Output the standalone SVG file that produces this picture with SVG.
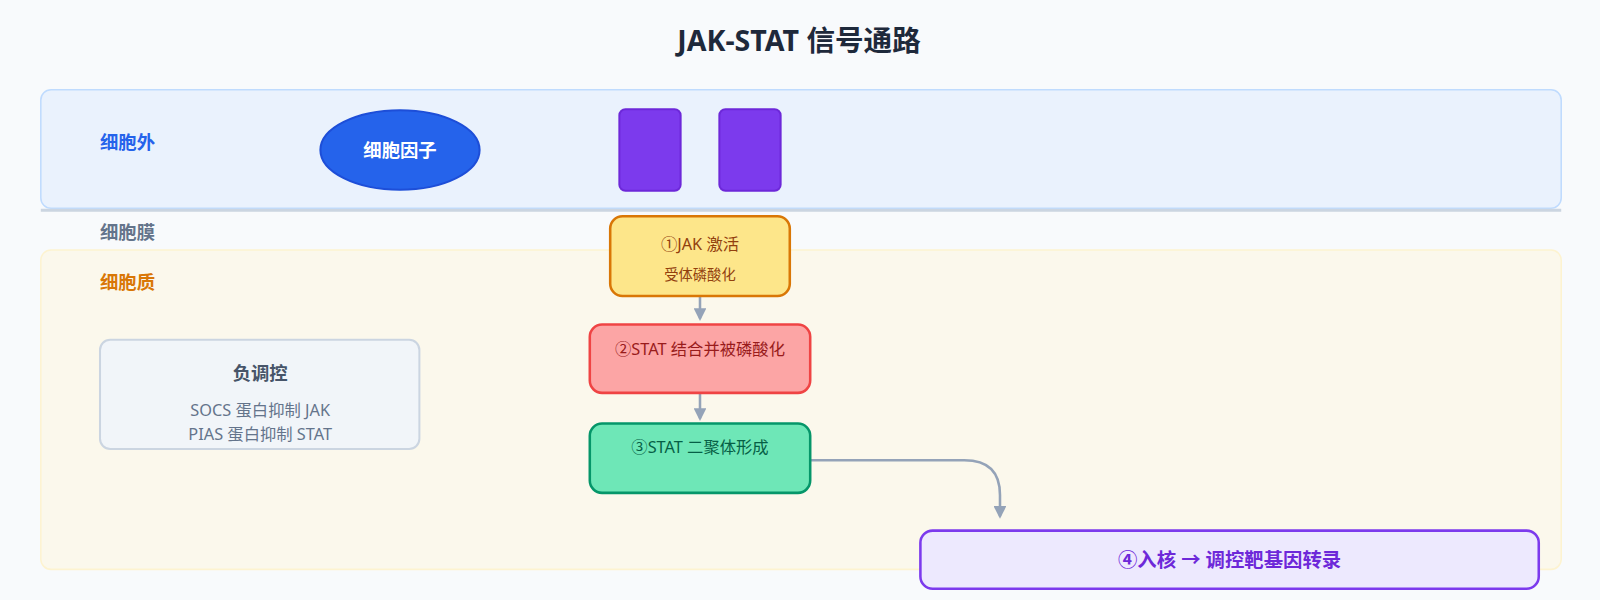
<svg xmlns="http://www.w3.org/2000/svg" width="1600" height="600" viewBox="0 0 1600 600">
<defs>
<style>
text{font-family:"Noto Sans","Noto Sans CJK SC",sans-serif}
.lbl{font-size:18px;font-weight:bold}
.conn{fill:none;stroke:#94a3b8;stroke-width:2.5}
</style>
<marker id="arr" viewBox="0 0 10 10" refX="8" refY="5" markerWidth="5" markerHeight="5" orient="auto"><path d="M0,0L10,5L0,10z" fill="#94a3b8"/></marker>
</defs>
<rect width="1600" height="600" fill="#f8fafc"/>
<g transform="scale(1.0204)">
<text x="783" y="50" text-anchor="middle" font-size="28" font-weight="bold" fill="#1e293b">JAK-STAT 信号通路</text>
<g id="extracellular"><rect x="40" y="88" width="1490" height="116" rx="10" fill="#eaf2fd" stroke="#bfdbfe" stroke-width="1.5"/><text x="98" y="146" class="lbl" fill="#2563eb">细胞外</text></g>
<g id="membrane"><line x1="40" y1="206" x2="1530" y2="206" stroke="#cbd5e1" stroke-width="3"/><text x="98" y="234" class="lbl" fill="#64748b">细胞膜</text></g>
<g id="cytoplasm"><rect x="40" y="245" width="1490" height="313" rx="10" fill="#fbf8ec" stroke="#fdf3d0" stroke-width="1.5"/><text x="98" y="283" class="lbl" fill="#d97706">细胞质</text></g>
<g id="cytokine"><ellipse cx="392" cy="147" rx="78" ry="39" fill="#2563eb" stroke="#1d4ed8" stroke-width="2"/><text x="392" y="154" text-anchor="middle" font-size="18" font-weight="bold" fill="#fff">细胞因子</text></g>
<g id="receptor1"><rect x="607" y="107" width="60" height="80" rx="6" fill="#7c3aed" stroke="#6d28d9" stroke-width="2"/></g>
<g id="receptor2"><rect x="705" y="107" width="60" height="80" rx="6" fill="#7c3aed" stroke="#6d28d9" stroke-width="2"/></g>
<g id="connectors">
<line class="conn" x1="686" y1="291" x2="686" y2="312" marker-end="url(#arr)"/>
<line class="conn" x1="686" y1="386" x2="686" y2="410" marker-end="url(#arr)"/>
<path class="conn" d="M794,451 H945 Q980,451 980,485 V506" marker-end="url(#arr)"/>
</g>
<g id="jak"><rect x="598" y="212" width="176" height="78" rx="12" fill="#fde68a" stroke="#d97706" stroke-width="2.5"/><text x="686" y="245" text-anchor="middle" font-size="16" fill="#92400e">①JAK 激活</text><text x="686" y="274" text-anchor="middle" font-size="14" fill="#92400e">受体磷酸化</text></g>
<g id="stat"><rect x="578" y="318" width="216" height="67" rx="12" fill="#fca5a5" stroke="#ef4444" stroke-width="2.5"/><text x="686" y="348" text-anchor="middle" font-size="16" fill="#991b1b">②STAT 结合并被磷酸化</text></g>
<g id="dimer"><rect x="578" y="415" width="216" height="68" rx="12" fill="#6ee7b7" stroke="#059669" stroke-width="2.5"/><text x="686" y="444" text-anchor="middle" font-size="16" fill="#065f46">③STAT 二聚体形成</text></g>
<g id="nucleus"><rect x="902" y="520" width="606" height="57" rx="12" fill="#ede9fe" stroke="#7c3aed" stroke-width="2.5"/><text x="1205" y="556" text-anchor="middle" font-size="19" font-weight="bold" fill="#6d28d9">④入核 → 调控靶基因转录</text></g>
<g id="negative"><rect x="98" y="333" width="313" height="107" rx="10" fill="#f1f5f9" stroke="#cbd5e1" stroke-width="2"/><text x="255" y="372" text-anchor="middle" font-size="18" font-weight="bold" fill="#475569">负调控</text><text x="255" y="408" text-anchor="middle" font-size="16" fill="#64748b">SOCS 蛋白抑制 JAK</text><text x="255" y="431" text-anchor="middle" font-size="16" fill="#64748b">PIAS 蛋白抑制 STAT</text></g>
</g>
</svg>
